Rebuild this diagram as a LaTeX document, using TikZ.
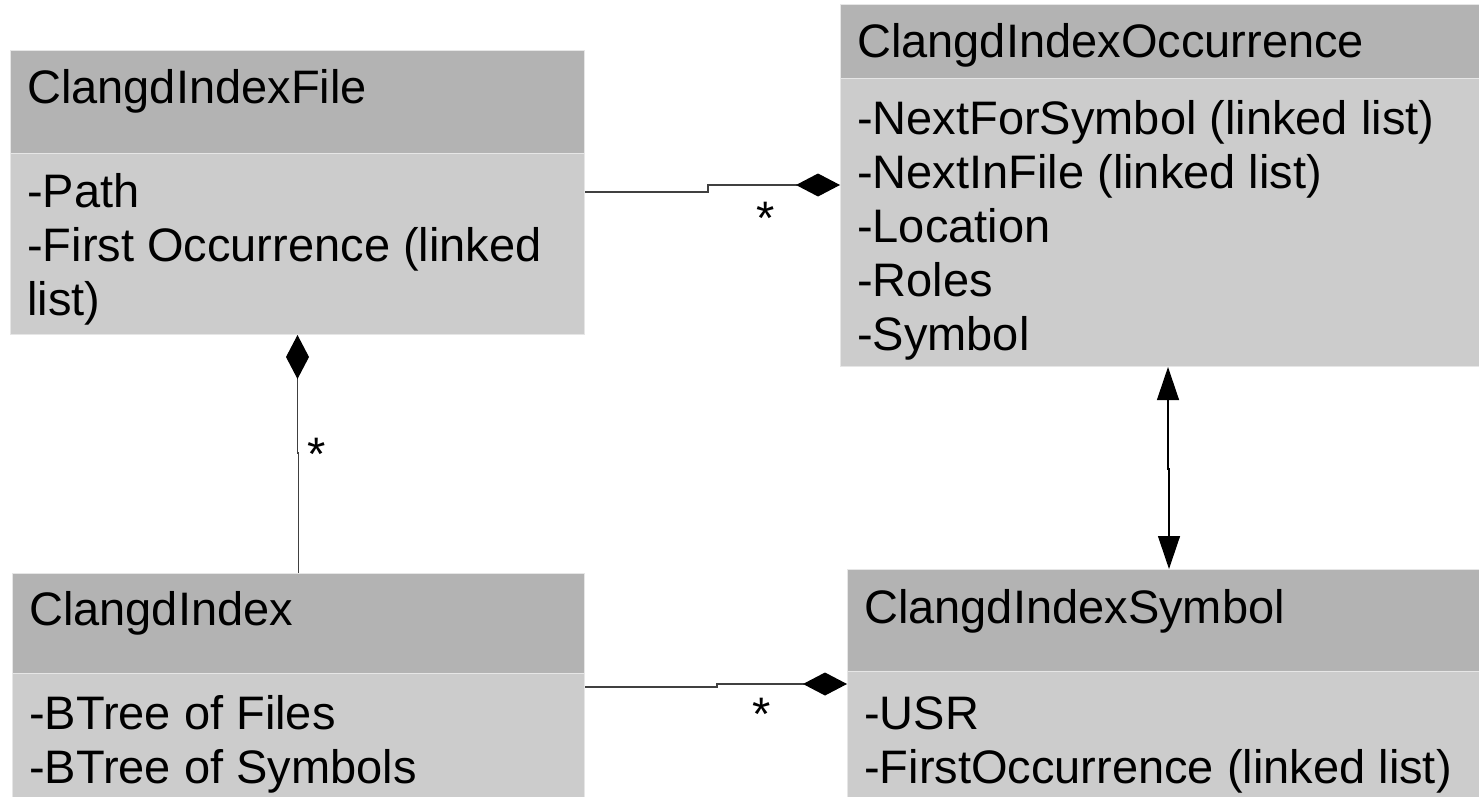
\documentclass[tikz,border=0pt]{standalone}
\usepackage{fontspec}
\setmainfont{Liberation Sans}
\usepackage{xcolor}
\usepackage{tikz}
\usetikzlibrary{arrows.meta,positioning,calc}

\definecolor{headgray}{HTML}{B3B3B3}
\definecolor{bodygray}{HTML}{CCCCCC}
\definecolor{edgegray}{HTML}{E6E6E6}

\begin{document}
\begin{tikzpicture}[x=1pt, y=-1pt,
  head/.style={fill=headgray, draw=edgegray, line width=1pt, anchor=north west, inner sep=0pt},
  body/.style={fill=bodygray, draw=edgegray, line width=1pt, anchor=north west, inner sep=0pt},
  title/.style={anchor=base west, inner sep=0pt, font=\fontsize{47pt}{54pt}\selectfont},
  attr/.style={title, align=left},
  mult/.style={anchor=base, inner sep=0pt, font=\fontsize{47pt}{54pt}\selectfont},
  comp/.style={draw=black!75, line width=1.2pt, -{Diamond[length=44pt, width=23pt, fill=black, color=black]}},
  nav/.style={draw=black, line width=1.2pt, {Triangle[length=33pt, width=22pt, color=black]}-{Triangle[length=33pt, width=22pt, color=black]}},
]
\useasboundingbox (0,0) rectangle (1479,797);

% class boxes
\node[head, minimum width=574pt, minimum height=103pt] (fileH) at (10,50) {};
\node[body, minimum width=574pt, minimum height=181pt] (fileB) at (10,153) {};
\node[head, minimum width=639pt, minimum height=74pt] (occH) at (840,4) {};
\node[body, minimum width=639pt, minimum height=288pt] (occB) at (840,78) {};
\node[head, minimum width=572pt, minimum height=100pt] (indexH) at (12,573) {};
\node[body, minimum width=572pt, minimum height=124pt] (indexB) at (12,673) {};
\node[head, minimum width=632pt, minimum height=102pt] (symH) at (847,569) {};
\node[body, minimum width=632pt, minimum height=126pt] (symB) at (847,671) {};

% texts (base of a multi-line node is its last line)
\node[title] (fileT) at ([shift={(17,53)}]fileH.north west) {ClangdIndexFile};
\node[attr] (fileA) at ([shift={(17,162)}]fileB.north west) {-Path\\-First Occurrence (linked\\list)};
\node[title] (occT) at ([shift={(17,54)}]occH.north west) {ClangdIndexOccurrence};
\node[attr] (occA) at ([shift={(17,272)}]occB.north west) {-NextForSymbol (linked list)\\-NextInFile (linked list)\\-Location\\-Roles\\-Symbol};
\node[title] (indexT) at ([shift={(17,52)}]indexH.north west) {ClangdIndex};
\node[attr] (indexA) at ([shift={(17,110)}]indexB.north west) {-BTree of Files\\-BTree of Symbols};
\node[title] (symT) at ([shift={(17,54)}]symH.north west) {ClangdIndexSymbol};
\node[attr] (symA) at ([shift={(17,112)}]symB.north west) {-USR\\-FirstOccurrence (linked list)};

% connectors
\draw[comp] ([yshift=-39pt]fileB.north east) -- ++(123,0) |- ([yshift=-107pt]occB.north west);
\draw[comp] ([yshift=-14pt]indexB.north east) -- ++(132,0) |- ([yshift=-13pt]symB.north west);
\draw[comp] (indexH.north) -- ++(0,-120) -| (fileB.south);
\draw[nav] ([xshift=328pt]occB.south west) -- ++(0,102) -| ([xshift=322pt]symH.north west);

\node[mult] (star1) at (766,234) {*};
\node[mult] (star2) at (762,730) {*};
\node[mult] (star3) at (317,470) {*};
\end{tikzpicture}
\end{document}
